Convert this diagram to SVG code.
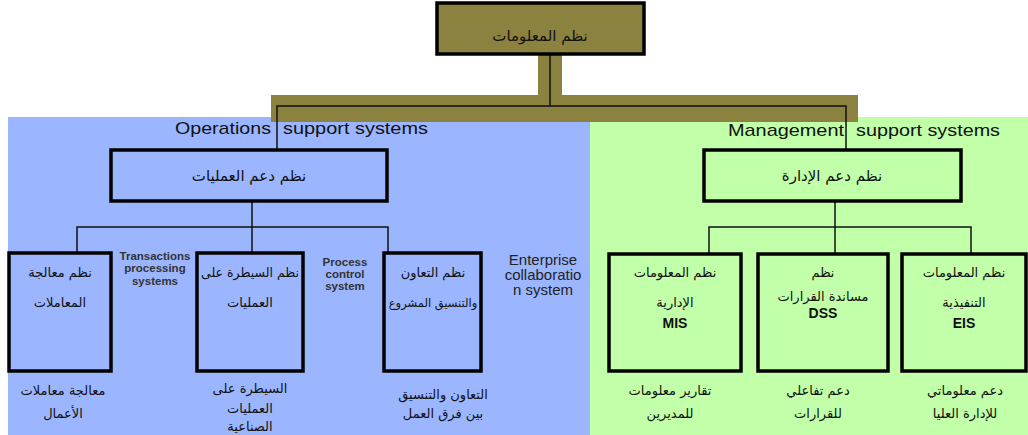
<svg xmlns="http://www.w3.org/2000/svg" width="1028" height="435" viewBox="0 0 1028 435">
<style>
.ar{font-family:"DejaVu Sans","Noto Sans",sans-serif;font-size:13px;fill:#111;text-anchor:middle}
.arh{font-family:"DejaVu Sans","Noto Sans",sans-serif;font-size:15px;fill:#111;text-anchor:middle}
.en{font-family:"Liberation Sans",Arial,sans-serif;font-size:11.5px;font-weight:bold;fill:#333;text-anchor:middle}
.enb{font-family:"Liberation Sans",Arial,sans-serif;font-size:15px;fill:#222;text-anchor:middle}
.hd{font-family:"Liberation Sans",Arial,sans-serif;font-size:17px;fill:#111}
.box{stroke:#000;stroke-width:3.5}
.blue{fill:#9BB6FF}
.green{fill:#C1FFA9}
.ln{stroke:#111;stroke-width:1.5;fill:none}
.dn{font-family:"Liberation Sans",Arial,sans-serif;font-size:14px;font-weight:bold;fill:#111;text-anchor:middle}
</style>
<rect x="0" y="0" width="1028" height="435" fill="#ffffff"/>
<rect x="8" y="117" width="582" height="318" class="blue"/>
<rect x="590" y="117" width="438" height="318" class="green"/>
<rect x="271" y="95" width="587" height="27" fill="#8C8240"/>
<rect x="538" y="50" width="24" height="46" fill="#8C8240"/>
<text class="hd" x="175" y="134" textLength="96" lengthAdjust="spacingAndGlyphs">Operations</text>
<text class="hd" x="283" y="134" textLength="145" lengthAdjust="spacingAndGlyphs">support systems</text>
<text class="hd" x="728" y="136" textLength="116" lengthAdjust="spacingAndGlyphs">Management</text>
<text class="hd" x="856" y="136" textLength="144" lengthAdjust="spacingAndGlyphs">support systems</text>
<g id="connectors">
<path class="ln" d="M550 55 V106 M277 150 V106 H846 V150"/>
<path class="ln" d="M252 201 V227 M77 253 V227 H388 V253 M252 227 V253"/>
<path class="ln" d="M835 201 V227 M709 254 V227 H971 V254 M835 227 V254"/>
</g>
<g id="n-info">
<rect x="437" y="3" width="207" height="51" fill="#8C8240" class="box"/>
<text class="arh" x="540" y="41">نظم المعلومات</text>
</g>
<g id="n-ops">
<rect x="111" y="150" width="276" height="51" class="box blue"/>
<text class="arh" x="249" y="181">نظم دعم العمليات</text>
</g>
<g id="n-mgmt">
<rect x="704" y="150" width="257" height="51" class="box green"/>
<text class="arh" x="832" y="181">نظم دعم الإدارة</text>
</g>
<g id="n-tps">
<rect x="9" y="253" width="102" height="118" class="box blue"/>
<text class="ar" x="60" y="277">نظم معالجة</text>
<text class="ar" x="60" y="307">المعاملات</text>
<text class="en" x="155" y="260">Transactions</text>
<text class="en" x="155" y="272">processing</text>
<text class="en" x="155" y="285">systems</text>
<text class="ar" x="63" y="395">معالجة معاملات</text>
<text class="ar" x="63" y="418">الأعمال</text>
</g>
<g id="n-pcs">
<rect x="197" y="253" width="106" height="118" class="box blue"/>
<text class="ar" x="250" y="277" style="font-size:12.5px">نظم السيطرة على</text>
<text class="ar" x="250" y="307">العمليات</text>
<text class="en" x="345" y="266">Process</text>
<text class="en" x="345" y="278">control</text>
<text class="en" x="345" y="290">system</text>
<text class="ar" x="250" y="393">السيطرة على</text>
<text class="ar" x="250" y="413">العمليات</text>
<text class="ar" x="250" y="431">الصناعية</text>
</g>
<g id="n-ecs">
<rect x="384" y="253" width="97" height="118" class="box blue"/>
<text class="ar" x="433" y="277">نظم التعاون</text>
<text class="ar" x="433" y="307" style="font-size:11.5px">والتنسيق المشروع</text>
<text class="enb" x="543" y="265">Enterprise</text>
<text class="enb" x="543" y="280">collaboratio</text>
<text class="enb" x="543" y="295">n system</text>
<text class="ar" x="443" y="399">التعاون والتنسيق</text>
<text class="ar" x="443" y="418">بين فرق العمل</text>
</g>
<g id="n-mis">
<rect x="609" y="254" width="132" height="117" class="box green"/>
<text class="ar" x="675" y="277">نظم المعلومات</text>
<text class="ar" x="675" y="307">الإدارية</text>
<text class="dn" x="675" y="328">MIS</text>
<text class="ar" x="670" y="395">تقارير معلومات</text>
<text class="ar" x="670" y="418">للمديرين</text>
</g>
<g id="n-dss">
<rect x="758" y="254" width="130" height="117" class="box green"/>
<text class="ar" x="823" y="277">نظم</text>
<text class="ar" x="823" y="301">مساندة القرارات</text>
<text class="dn" x="823" y="318">DSS</text>
<text class="ar" x="818" y="395">دعم تفاعلي</text>
<text class="ar" x="818" y="418">للقرارات</text>
</g>
<g id="n-eis">
<rect x="902" y="254" width="124" height="117" class="box green"/>
<text class="ar" x="964" y="277">نظم المعلومات</text>
<text class="ar" x="964" y="307">التنفيذية</text>
<text class="dn" x="964" y="328">EIS</text>
<text class="ar" x="965" y="395">دعم معلوماتي</text>
<text class="ar" x="965" y="418">للإدارة العليا</text>
</g>
</svg>
